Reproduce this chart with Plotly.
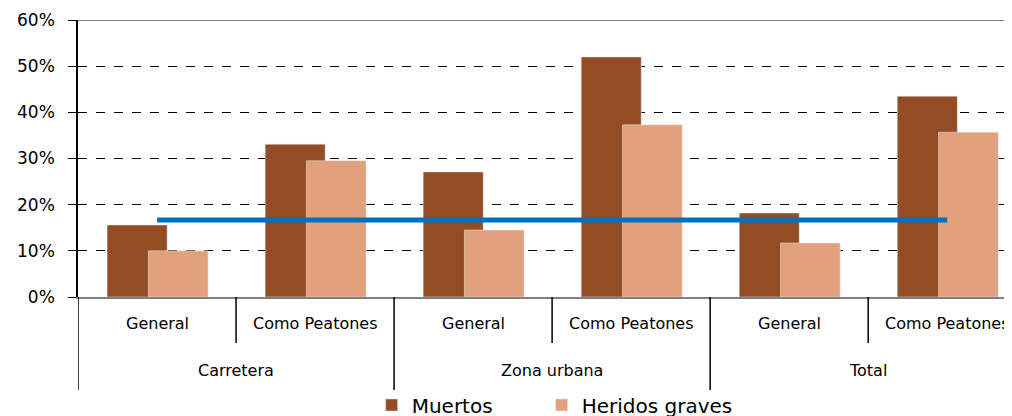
import plotly.graph_objects as go

groups = ["Carretera", "Zona urbana", "Total"]
subcats = ["General", "Como Peatones"]
muertos = [0.156, 0.331, 0.271, 0.520, 0.182, 0.435]
heridos = [0.100, 0.295, 0.145, 0.373, 0.117, 0.357]
referencia = 0.167
yticks = [0, 0.1, 0.2, 0.3, 0.4, 0.5, 0.6]

labels = [s for g in groups for s in subcats]
x = list(range(len(labels)))

C_M = "#934C24"
C_H = "#E1A17D"
FONT = "DejaVu Sans"

fig = go.Figure()
fig.add_trace(go.Bar(x=x, y=muertos, name="Muertos", marker_color=C_M,
                     offset=-0.316, width=0.38, legend="legend"))
fig.add_trace(go.Bar(x=x, y=heridos, name="Heridos graves", marker_color=C_H,
                     offset=-0.055, width=0.378, legend="legend2"))
fig.add_trace(go.Scatter(x=[x[0], x[-1]], y=[referencia, referencia], mode="lines",
                         line=dict(color="#0070C0", width=5), showlegend=False,
                         hoverinfo="skip"))

shapes = []
shapes.append(dict(type="line", xref="paper", yref="y", x0=0, x1=1, y0=0.6, y1=0.6,
                   line=dict(color="#808080", width=2)))
for i in range(len(labels)):
    xb = i - 0.5
    y1 = -0.336 if i % 2 == 0 else -0.166
    shapes.append(dict(type="line", xref="x", yref="paper", x0=xb, x1=xb, y0=0, y1=y1,
                       line=dict(color="black", width=1.5)))

annotations = []
for i, lab in enumerate(labels):
    annotations.append(dict(x=i, y=-0.094, xref="x", yref="paper", text=lab,
                            showarrow=False, font=dict(family=FONT, size=16, color="black"),
                            yanchor="middle"))
for j, g in enumerate(groups):
    annotations.append(dict(x=2 * j + 0.5, y=-0.264, xref="x", yref="paper", text=g,
                            showarrow=False, font=dict(family=FONT, size=16, color="black"),
                            yanchor="middle"))

legend_common = dict(orientation="h", xanchor="left", xref="paper",
                     y=0.0457, yref="container", yanchor="middle",
                     font=dict(family=FONT, size=20, color="black"),
                     bgcolor="rgba(0,0,0,0)")

fig.update_layout(
    width=1012, height=416,
    margin=dict(l=70, r=8, t=12, b=127, autoexpand=False),
    paper_bgcolor="white", plot_bgcolor="white",
    barmode="overlay",
    showlegend=True,
    legend=dict(x=0.3144, **legend_common),
    legend2=dict(x=0.4964, **legend_common),
    xaxis=dict(range=[-0.5, 5.41], showticklabels=False, ticks="", showgrid=False,
               showline=True, linecolor="#808080", linewidth=2, zeroline=False,
               fixedrange=True, automargin=False),
    yaxis=dict(range=[0, 0.6], tickvals=yticks, tickformat=".0%", ticks="outside",
               ticklen=8, tickcolor="black", showline=True, linecolor="black",
               linewidth=1.5, showgrid=True, gridcolor="black", griddash="dash",
               gridwidth=1, zeroline=False, ticklabelstandoff=10, automargin=False,
               tickfont=dict(family=FONT, size=17, color="black")),
    shapes=shapes,
    annotations=annotations,
)

fig.write_html("out.html")
